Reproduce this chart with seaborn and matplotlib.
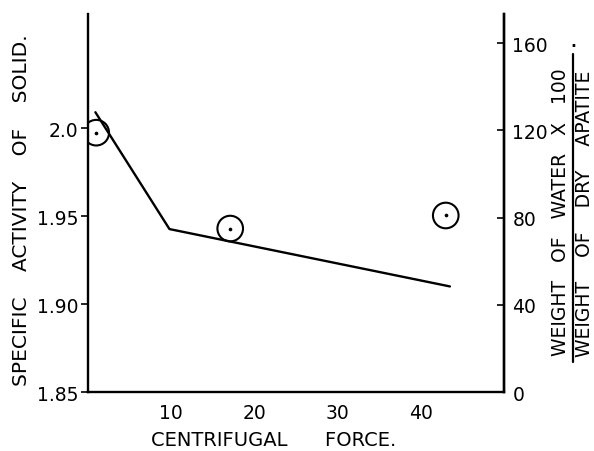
import matplotlib
matplotlib.use("Agg")
import matplotlib.pyplot as plt
import seaborn as sns
import pandas as pd
from matplotlib.lines import Line2D

# Data
force_line = [0.9, 9.8, 43.5]
activity_line = [2.009, 1.9426, 1.910]

force_pts = [1.0, 17.1, 43.0]
water_pts = [119, 75, 81]

left_ticks = [1.85, 1.90, 1.95, 2.00]
left_labels = ["1.85", "1.90", "1.95", "2.0"]
right_ticks = [0, 40, 80, 120, 160]
x_ticks = [10, 20, 30, 40]

sns.set_style("white")
plt.rcParams['font.family'] = ['DejaVu Sans']
plt.rcParams['text.color'] = 'black'
plt.rcParams['xtick.color'] = 'black'
plt.rcParams['ytick.color'] = 'black'

fig = plt.figure(figsize=(5.94, 4.52), dpi=100)
ax = fig.add_axes([0.148, 0.1305, 0.7005, 0.837])
ax2 = ax.twinx()

df_line = pd.DataFrame({"force": force_line, "activity": activity_line})
sns.lineplot(data=df_line, x="force", y="activity", ax=ax, color="black", linewidth=1.7)

df_pts = pd.DataFrame({"force": force_pts, "water": water_pts})
sns.scatterplot(data=df_pts, x="force", y="water", ax=ax2, s=340, marker="o",
                facecolor="none", edgecolor="black", linewidth=1.5)
sns.scatterplot(data=df_pts, x="force", y="water", ax=ax2, s=7, marker="o",
                color="black", linewidth=0)

ax.set_xlim(0, 50)
ax.set_ylim(1.85, 2.065)
ax2.set_ylim(0, 173.6)

ax.set_xticks(x_ticks)
ax.set_xticklabels([str(t) for t in x_ticks])
ax.set_yticks(left_ticks)
ax.set_yticklabels(left_labels)
ax2.set_yticks(right_ticks)
ax2.set_yticklabels([str(t) for t in right_ticks])

for a in (ax, ax2):
    a.spines['top'].set_visible(False)
    for s in ('left', 'right', 'bottom'):
        a.spines[s].set_color('black')
        a.spines[s].set_linewidth(1.7)
    a.set_xlabel("")
    a.set_ylabel("")

ax.tick_params(axis='y', direction='out', length=5, width=1.2, labelsize=13.5, pad=2)
ax.tick_params(axis='x', direction='in', length=4, width=1.0, labelsize=13.5, pad=8)
ax2.tick_params(axis='y', direction='in', length=5, width=1.2, labelsize=13.5, pad=6)
ax2.spines['left'].set_visible(False)
ax2.spines['bottom'].set_visible(False)

fig.text(22 / 594, 1 - 210 / 452, "SPECIFIC    ACTIVITY    OF    SOLID.",
         rotation=90, ha='center', va='center', fontsize=14.5)
fig.text(274 / 594, 1 - 441 / 452, "CENTRIFUGAL      FORCE.",
         ha='center', va='center', fontsize=14)

# Right fraction label
fig.text(561 / 594, 1 - 212 / 452, "WEIGHT   OF   WATER   X   100",
         rotation=90, ha='center', va='center', fontsize=13.5)
fig.text(584 / 594, 1 - 214 / 452, "WEIGHT    OF    DRY    APATITE",
         rotation=90, ha='center', va='center', fontsize=13.5)
fig.add_artist(Line2D([573 / 594, 573 / 594], [1 - 363 / 452, 1 - 55 / 452],
                      transform=fig.transFigure, color='black', linewidth=1.6))
fig.text(573 / 594, 1 - 40 / 452, ".", ha='center', va='center', fontsize=18)

fig.savefig("out.png", dpi=100)
